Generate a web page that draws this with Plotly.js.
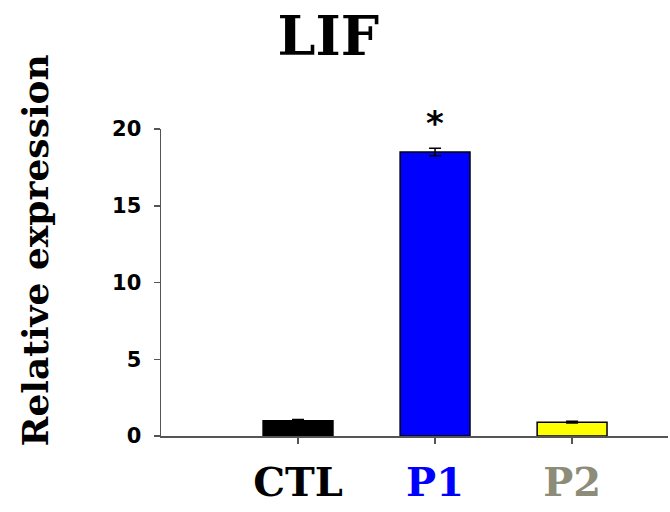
<!DOCTYPE html>
<html>
<head>
<meta charset="utf-8">
<script src="https://cdn.plot.ly/plotly-3.0.1.min.js"></script>
<style>body{margin:0;background:#fff}#chart{width:670px;height:512px}</style>
</head>
<body>
<div id="chart"></div>
<script>
var categories = ["CTL", "P1", "P2"];
var values = [1.0, 18.5, 0.9];
var errors = [0.07, 0.25, 0.06];
var barColors = ["#000000", "#0000ff", "#ffff00"];
var labelColors = ["#000000", "#0000ff", "#8c8c78"];
var yTicks = [0, 5, 10, 15, 20];
var significance = ["", "*", ""];

var ticktext = categories.map(function (c, i) {
  return '<span style="color:' + labelColors[i] + '">' + c + '</span>';
});

var trace = {
  type: "bar",
  x: categories,
  y: values,
  width: 0.51,
  marker: { color: barColors, line: { color: "#000", width: 1.5 } },
  error_y: { type: "data", array: errors, visible: true, color: "#000", thickness: 1.5, width: 6 },
  hoverinfo: "none"
};

var annotations = [];
categories.forEach(function (c, i) {
  if (significance[i]) {
    annotations.push({
      x: c, y: values[i] + errors[i], xref: "x", yref: "y",
      text: "<b>" + significance[i] + "</b>", showarrow: false, yanchor: "bottom", yshift: 3,
      font: { family: "DejaVu Sans", size: 34, color: "#000" }
    });
  }
});
annotations.push({
  xref: "paper", yref: "paper", x: -0.248, y: 0.605, xanchor: "center", yanchor: "middle",
  text: "<b>Relative expression</b>", textangle: -90, showarrow: false,
  font: { family: "DejaVu Serif", size: 36, color: "#000" }
});

var layout = {
  width: 670, height: 512,
  margin: { l: 161, r: 2, t: 129, b: 76 },
  paper_bgcolor: "#fff", plot_bgcolor: "#fff",
  showlegend: false,
  title: {
    text: "<b>LIF</b>", x: 0.49, xanchor: "center", y: 0.93, yanchor: "middle",
    font: { family: "DejaVu Serif", size: 54, color: "#000" }
  },
  xaxis: {
    type: "category", range: [-1, 2.7],
    tickmode: "array", tickvals: categories, ticktext: ticktext,
    ticks: "outside", ticklen: 6, tickcolor: "#555", tickwidth: 1.5,
    showline: true, linecolor: "#555", linewidth: 1.5,
    showgrid: false, zeroline: false,
    tickfont: { family: "DejaVu Serif", size: 40, color: "#000", weight: "bold" },
    ticklabelstandoff: 4
  },
  yaxis: {
    range: [0, 20], tickmode: "array", tickvals: yTicks,
    ticks: "outside", ticklen: 6, tickcolor: "#555", tickwidth: 1.5,
    showline: true, linecolor: "#555", linewidth: 1.5,
    showgrid: false, zeroline: false,
    tickfont: { family: "DejaVu Sans", size: 21, color: "#000", weight: "bold" },
    ticklabelstandoff: 8
  },
  annotations: annotations
};

Plotly.newPlot("chart", [trace], layout, { staticPlot: true, displayModeBar: false });
</script>
</body>
</html>
